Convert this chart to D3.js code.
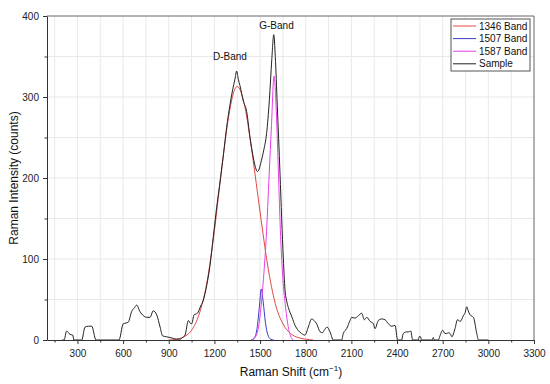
<!DOCTYPE html>
<html>
<head>
<meta charset="utf-8">
<script src="https://cdn.jsdelivr.net/npm/d3@7"></script>
<style>
  body { margin: 0; background: #fff; }
  svg { font-family: "Liberation Sans", Arial, sans-serif; }
  .tick text { font-size: 10px; fill: #222; }
  .axis-label { font-size: 12px; fill: #111; }
</style>
</head>
<body>
<div class="container"></div>
<script>
// Values: [Raman shift, intensity]
const sample = [
  [200, 0], [212, 0], [229, 11], [251, 7], [269, 6], [277, 0], [328, 0], [350, 16], [372, 17],
  [394, 17], [422, 0], [573, 0], [601, 20], [620, 21], [634, 22], [656, 35], [675, 40], [689, 43],
  [711, 35], [733, 30], [755, 28], [777, 28], [798, 36], [821, 31], [843, 16], [860, 5], [886, 4],
  [908, 3], [930, 2], [950, 1], [974, 1], [990, 3], [1007, 6], [1029, 24], [1040, 21], [1051, 20],
  [1066, 31], [1088, 33], [1110, 42], [1127, 49], [1150, 68], [1171, 92], [1193, 128], [1215, 164],
  [1241, 201], [1260, 230], [1280, 262], [1302, 290], [1320, 309], [1335, 322], [1346, 332],
  [1357, 322], [1368, 314], [1390, 295], [1412, 282], [1434, 250], [1456, 225], [1470, 213],
  [1482, 208], [1494, 211], [1504, 218], [1525, 235], [1543, 255], [1561, 296], [1577, 346],
  [1590, 377], [1600, 350], [1613, 290], [1631, 206], [1642, 150], [1653, 100], [1664, 62],
  [1675, 48], [1686, 40], [1710, 28], [1730, 18], [1750, 12], [1773, 8], [1795, 6], [1817, 16],
  [1839, 26], [1855, 24], [1872, 20], [1895, 10], [1910, 9], [1925, 13], [1940, 16], [1960, 10],
  [1981, 0], [2036, 0], [2047, 8], [2069, 14], [2091, 24], [2102, 28], [2124, 27], [2146, 30],
  [2168, 33], [2185, 25], [2201, 28], [2223, 23], [2245, 20], [2255, 14], [2277, 24], [2299, 26],
  [2321, 25], [2343, 20], [2365, 17], [2387, 18], [2404, 0], [2430, 0], [2441, 8], [2463, 10],
  [2474, 10], [2490, 11], [2503, 0], [2540, 0], [2545, 4], [2555, 4], [2560, 0], [2630, 0],
  [2638, 3], [2645, 0], [2672, 0], [2680, 4], [2700, 12], [2715, 8], [2727, 8], [2737, 9],
  [2749, 8], [2760, 4], [2781, 14], [2797, 25], [2815, 23], [2836, 30], [2848, 34], [2858, 41],
  [2868, 36], [2880, 31], [2902, 28], [2924, 8], [2935, 0], [3000, 0]
];

const band1346 = [
  [900, 0], [950, 1], [1000, 4], [1050, 12], [1100, 32], [1150, 70], [1200, 135], [1250, 215],
  [1300, 283], [1325, 305], [1350, 313], [1375, 306], [1400, 288], [1450, 228], [1500, 158],
  [1550, 92], [1600, 45], [1650, 20], [1700, 8], [1750, 3], [1800, 1], [1850, 0]
];

const band1507 = [
  [1440, 0], [1460, 2], [1480, 14], [1495, 40], [1508, 63], [1520, 48], [1535, 22], [1550, 7],
  [1570, 1], [1590, 0]
];

const band1587 = [
  [1450, 0], [1480, 8], [1500, 30], [1520, 70], [1540, 125], [1560, 205], [1575, 265], [1592, 326],
  [1605, 290], [1620, 210], [1635, 128], [1650, 75], [1665, 45], [1680, 22], [1700, 5], [1720, 0]
];

const legendLabels = ["1346 Band", "1507 Band", "1587 Band", "Sample"];
const seriesColors = ["#e04848", "#3a3ac8", "#e83ee8", "#222222"];
const xTicks = [300, 600, 900, 1200, 1500, 1800, 2100, 2400, 2700, 3000, 3300];
const xMinorTicks = [150, 450, 750, 1050, 1350, 1650, 1950, 2250, 2550, 2850, 3150];
const yTicks = [0, 100, 200, 300, 400];
const yMinorTicks = [50, 150, 250, 350];
const annotations = [
  { text: "D-Band", x: 1302, y: 346 },
  { text: "G-Band", x: 1608, y: 384 }
];

const WIDTH = 550;
const HEIGHT = 384;
const margin = { top: 16, right: 16, bottom: 44, left: 47 };

const svg = d3.select(".container")
  .append("svg")
  .attr("width", WIDTH)
  .attr("height", HEIGHT);

// Scales
const x = d3.scaleLinear()
  .domain([100, 3300])
  .range([margin.left, WIDTH - margin.right]);

const y = d3.scaleLinear()
  .domain([0, 400])
  .range([HEIGHT - margin.bottom, margin.top]);

// Grid lines (major + minor)
const grid = svg.append("g").attr("class", "grid");
grid.selectAll(".vgrid")
  .data(xTicks.concat(xMinorTicks).filter(d => d < 3300))
  .join("line")
  .attr("x1", d => x(d)).attr("x2", d => x(d))
  .attr("y1", y(0)).attr("y2", y(400))
  .attr("stroke", "#e9e9e9");
grid.selectAll(".hgrid")
  .data(yTicks.concat(yMinorTicks).filter(d => d > 0 && d < 400))
  .join("line")
  .attr("x1", x(100)).attr("x2", x(3300))
  .attr("y1", d => y(d)).attr("y2", d => y(d))
  .attr("stroke", "#e9e9e9");

// Frame on top and right
svg.append("line")
  .attr("x1", x(100)).attr("x2", x(3300))
  .attr("y1", y(400)).attr("y2", y(400))
  .attr("stroke", "#666");
svg.append("line")
  .attr("x1", x(3300)).attr("x2", x(3300))
  .attr("y1", y(400)).attr("y2", y(0))
  .attr("stroke", "#666");

// Curves
const line = d3.line()
  .x(d => x(d[0]))
  .y(d => y(d[1]))
  .curve(d3.curveMonotoneX);

[band1346, band1507, band1587, sample].forEach((series, i) => {
  svg.append("path")
    .datum(series)
    .attr("fill", "none")
    .attr("stroke", seriesColors[i])
    .attr("stroke-width", 1)
    .attr("d", line);
});

// Axes
svg.append("g")
  .attr("class", "x-axis")
  .attr("transform", `translate(0,${y(0)})`)
  .call(d3.axisBottom(x).tickValues(xTicks).tickFormat(d3.format("d"))
    .tickSize(4).tickSizeOuter(0).tickPadding(6));
svg.append("g")
  .attr("transform", `translate(0,${y(0)})`)
  .call(d3.axisBottom(x).tickValues(xMinorTicks).tickSize(2.5).tickFormat("").tickSizeOuter(0))
  .call(g => g.select(".domain").remove());

svg.append("g")
  .attr("class", "y-axis")
  .attr("transform", `translate(${x(100)},0)`)
  .call(d3.axisLeft(y).tickValues(yTicks).tickFormat(d3.format("d"))
    .tickSize(4).tickSizeOuter(0).tickPadding(4));
svg.append("g")
  .attr("transform", `translate(${x(100)},0)`)
  .call(d3.axisLeft(y).tickValues(yMinorTicks).tickSize(2.5).tickFormat("").tickSizeOuter(0))
  .call(g => g.select(".domain").remove());

svg.selectAll(".domain, .tick line").attr("stroke", "#333");

// Axis labels
const xLabel = svg.append("text")
  .attr("class", "axis-label")
  .attr("x", 291)
  .attr("y", 376)
  .attr("text-anchor", "middle");
xLabel.append("tspan").text("Raman Shift (cm");
xLabel.append("tspan").attr("font-size", "8px").attr("dy", -5).text("−1");
xLabel.append("tspan").attr("dy", 5).text(")");

svg.append("text")
  .attr("class", "axis-label")
  .attr("transform", "translate(18,178) rotate(-90)")
  .attr("text-anchor", "middle")
  .text("Raman Intensity (counts)");

// Peak annotations
svg.selectAll(".annotation")
  .data(annotations)
  .join("text")
  .attr("class", "annotation")
  .attr("x", d => x(d.x))
  .attr("y", d => y(d.y))
  .attr("text-anchor", "middle")
  .attr("font-size", "10px")
  .attr("fill", "#111")
  .text(d => d.text);

// Legend
const legend = svg.append("g").attr("transform", "translate(451,19)");
legend.append("rect")
  .attr("width", 79)
  .attr("height", 52)
  .attr("fill", "#fff")
  .attr("stroke", "#555");
legendLabels.forEach((label, i) => {
  const row = legend.append("g").attr("transform", `translate(0,${7 + i * 12.6})`);
  row.append("line")
    .attr("x1", 2).attr("x2", 25)
    .attr("stroke", seriesColors[i]);
  row.append("text")
    .attr("x", 28)
    .attr("dy", "0.35em")
    .attr("font-size", "10px")
    .attr("fill", "#111")
    .text(label);
});
</script>
</body>
</html>
